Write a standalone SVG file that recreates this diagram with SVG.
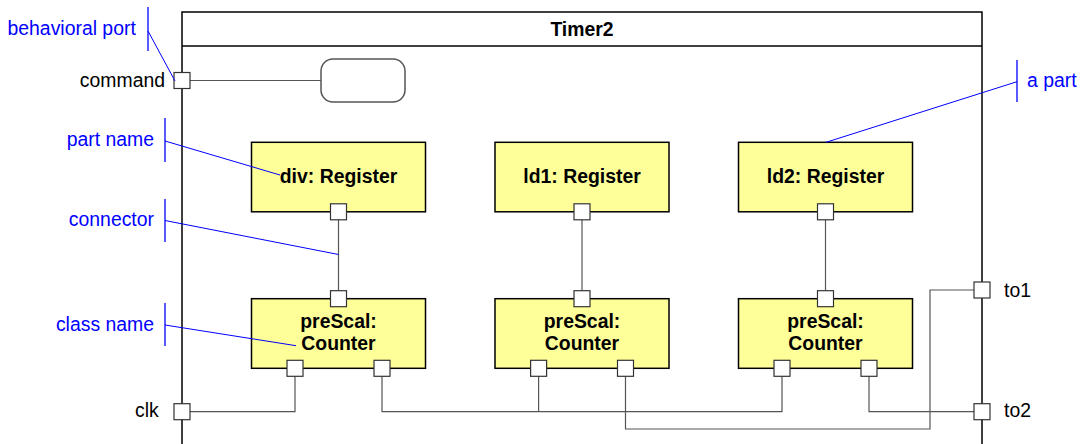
<svg xmlns="http://www.w3.org/2000/svg" width="1083" height="444" viewBox="0 0 1083 444">
<style>
text{font-family:"Liberation Sans",Arial,sans-serif;font-size:19.4px}
.b{font-weight:bold;text-anchor:middle;fill:#000}
.lbl{fill:#000}
.ann{fill:#0000ff}
.box{fill:#ffff99;stroke:#000;stroke-width:1.5}
.port{fill:#fff;stroke:#333;stroke-width:1.2}
.con{fill:none;stroke:#555;stroke-width:1.2}
.aline{fill:none;stroke:#0000ff;stroke-width:1}
.abar{fill:none;stroke:#0000ff;stroke-width:1.3}
</style>
<rect width="1083" height="444" fill="#fff"/>
<g id="Timer2">
<rect x="182" y="12" width="800" height="460" fill="none" stroke="#000" stroke-width="1.5"/>
<line x1="182" y1="46" x2="982" y2="46" stroke="#000" stroke-width="1.5"/>
<text class="b" x="582" y="35.5">Timer2</text>
</g>
<g id="connectors">
<path class="con" d="M190 80.5H321"/>
<path class="con" d="M338.5 219.8V290.7"/>
<path class="con" d="M582 219.8V290.7"/>
<path class="con" d="M825.5 219.8V290.7"/>
<path class="con" d="M190 411.7H295V376.3"/>
<path class="con" d="M382 376.3V411.7H782V376.3"/>
<path class="con" d="M538.6 376.3V411.7"/>
<path class="con" d="M625.5 376.3V429H930V290H974"/>
<path class="con" d="M869 376.3V411.7H974"/>
</g>
<g id="behavior">
<rect x="321" y="59" width="84" height="43" rx="12" fill="#fff" stroke="#555" stroke-width="1.5"/>
</g>
<g id="port-command">
<rect class="port" x="174" y="72.5" width="16" height="16"/>
<text class="lbl" x="165" y="86.5" text-anchor="end">command</text>
</g>
<g id="port-clk">
<rect class="port" x="174" y="403.7" width="16" height="16"/>
<text class="lbl" x="135" y="417">clk</text>
</g>
<g id="port-to1">
<rect class="port" x="974" y="282" width="16" height="16"/>
<text class="lbl" x="1004" y="297">to1</text>
</g>
<g id="port-to2">
<rect class="port" x="974" y="403.7" width="16" height="16"/>
<text class="lbl" x="1004" y="416.5">to2</text>
</g>
<g id="div">
<rect class="box" x="251.5" y="142.3" width="174" height="69.5"/>
<text class="b" x="338.5" y="183">div: Register</text>
<rect class="port" x="330.5" y="203.8" width="16" height="16"/>
</g>
<g id="ld1">
<rect class="box" x="495" y="142.3" width="174" height="69.5"/>
<text class="b" x="582" y="183">ld1: Register</text>
<rect class="port" x="574" y="203.8" width="16" height="16"/>
</g>
<g id="ld2">
<rect class="box" x="738.5" y="142.3" width="174" height="69.5"/>
<text class="b" x="825.5" y="183">ld2: Register</text>
<rect class="port" x="817.5" y="203.8" width="16" height="16"/>
</g>
<g id="preScal1">
<rect class="box" x="251.5" y="298.7" width="174" height="69.6"/>
<text class="b" x="338.5" y="328">preScal:</text>
<text class="b" x="338.5" y="350">Counter</text>
<rect class="port" x="330.5" y="290.7" width="16" height="16"/>
<rect class="port" x="287" y="360.3" width="16" height="16"/>
<rect class="port" x="374" y="360.3" width="16" height="16"/>
</g>
<g id="preScal2">
<rect class="box" x="495" y="298.7" width="174" height="69.6"/>
<text class="b" x="582" y="328">preScal:</text>
<text class="b" x="582" y="350">Counter</text>
<rect class="port" x="574" y="290.7" width="16" height="16"/>
<rect class="port" x="530.6" y="360.3" width="16" height="16"/>
<rect class="port" x="617.5" y="360.3" width="16" height="16"/>
</g>
<g id="preScal3">
<rect class="box" x="738.5" y="298.7" width="174" height="69.6"/>
<text class="b" x="825.5" y="328">preScal:</text>
<text class="b" x="825.5" y="350">Counter</text>
<rect class="port" x="817.5" y="290.7" width="16" height="16"/>
<rect class="port" x="774" y="360.3" width="16" height="16"/>
<rect class="port" x="861" y="360.3" width="16" height="16"/>
</g>
<g id="annotations">
<text class="ann" x="7.5" y="34.5">behavioral port</text>
<path class="abar" d="M148 7V51"/>
<path class="aline" d="M148 31L175 81"/>
<text class="ann" x="154" y="146" text-anchor="end">part name</text>
<path class="abar" d="M165 118V162"/>
<path class="aline" d="M165 141L280 175"/>
<text class="ann" x="154" y="226" text-anchor="end">connector</text>
<path class="abar" d="M165 199V242"/>
<path class="aline" d="M165 220.5L338.5 254.5"/>
<text class="ann" x="154" y="330.5" text-anchor="end">class name</text>
<path class="abar" d="M165 303V346"/>
<path class="aline" d="M165 325L296 345.7"/>
<text class="ann" x="1027" y="87">a part</text>
<path class="abar" d="M1017 60V102"/>
<path class="aline" d="M1017 81.7L826 142.3"/>
</g>
</svg>
